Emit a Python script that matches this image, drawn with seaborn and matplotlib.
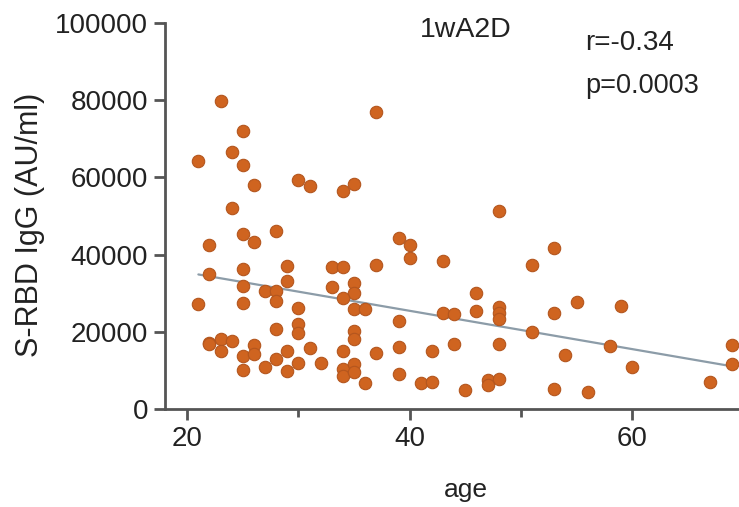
import matplotlib
matplotlib.use("Agg")
import matplotlib.pyplot as plt
import seaborn as sns
import numpy as np
import pandas as pd

age = [23, 25, 24, 21, 25, 26, 30, 31, 34, 35, 37, 24, 25, 26, 28, 22,
       48, 39, 40, 53, 22, 25, 29, 33, 34, 37, 25, 29, 27, 28, 28, 33,
       35, 35, 34, 21, 25, 30, 35, 36, 30, 30, 28, 35, 35, 22, 23, 24,
       23, 26, 25, 26, 29, 31, 37, 34, 28, 30, 32, 27, 25, 29, 34, 35,
       34, 35, 36, 40, 43, 51, 46, 46, 43, 44, 48, 48, 48, 51, 53, 39,
       39, 42, 44, 48, 39, 41, 42, 45, 47, 48, 47, 53, 55, 59, 58, 54,
       60, 56, 67, 69, 69, 22]
igg = [79800, 72000, 66600, 64200, 63200, 58000, 59300, 57800, 56600, 58200,
       77000, 52200, 45300, 43300, 46200, 42600, 51300, 44300, 42400, 41700,
       35000, 36300, 37000, 36800, 36800, 37400, 31800, 33100, 30500, 30500,
       27900, 31700, 32700, 30100, 28800, 27100, 27500, 26200, 25800, 25800,
       22000, 19600, 20800, 20200, 18100, 17200, 18100, 17600, 15000, 16500,
       13800, 14200, 15000, 15900, 14600, 15000, 12900, 12000, 11800, 11000,
       10100, 9900, 10300, 11600, 8600, 9500, 6700, 39100, 38400, 37200,
       30000, 25300, 25000, 24700, 26300, 24900, 23300, 19900, 25000, 22800,
       16000, 15000, 16800, 16800, 9000, 6700, 6900, 4800, 7500, 7700,
       6200, 5200, 27700, 26700, 16300, 13900, 11000, 4300, 6900, 16500,
       11600, 16800]

title_text = "1wA2D"
r_text = "r=-0.34"
p_text = "p=0.0003"
x_label = "age"
y_label = "S-RBD IgG (AU/ml)"

df = pd.DataFrame({"age": age, "igg": igg})

sns.set_style("ticks")
plt.rcParams['font.family'] = ['Liberation Sans', 'DejaVu Sans']

fig = plt.figure(figsize=(7.39, 5.07), dpi=100)
ax = fig.add_axes([165/739, 98/507, 574/739, 386/507])

sns.regplot(data=df, x="age", y="igg", ax=ax, ci=None,
            scatter_kws=dict(s=80, color="#CF6420", edgecolor="#B4561E",
                             linewidths=0.8, alpha=1, zorder=3),
            line_kws=dict(color="#8C9CA8", lw=1.6, zorder=2))

ax.set_xlim(18, 69.6)
ax.set_ylim(0, 100000)
ax.set_xticks([20, 40, 60])
ax.set_xticks([30, 50], minor=True)
ax.set_yticks([0, 20000, 40000, 60000, 80000, 100000])

sns.despine(ax=ax)
for s in ["left", "bottom"]:
    ax.spines[s].set_color("#555555")
    ax.spines[s].set_linewidth(2)
ax.tick_params(axis="both", which="major", length=8, width=2, color="#555555",
               labelsize=20, labelcolor="#222222", pad=4)
ax.tick_params(axis="x", which="minor", length=6, width=2, color="#555555")

ax.set_xlabel(x_label, fontsize=19, color="#222222", va="center")
ax.set_ylabel(y_label, fontsize=22, color="#222222", va="center")
ax.xaxis.set_label_coords(0.524, -0.21)
ax.yaxis.set_label_coords(-0.235, 0.477)

ax.text(0.524, 0.982, title_text, transform=ax.transAxes, ha="center",
        va="center", fontsize=20.5, color="#222222")
ax.text(0.732, 0.948, r_text, transform=ax.transAxes, ha="left",
        va="center", fontsize=20, color="#222222")
ax.text(0.732, 0.837, p_text, transform=ax.transAxes, ha="left",
        va="center", fontsize=19.5, color="#222222")

fig.savefig("out.png", dpi=100)
